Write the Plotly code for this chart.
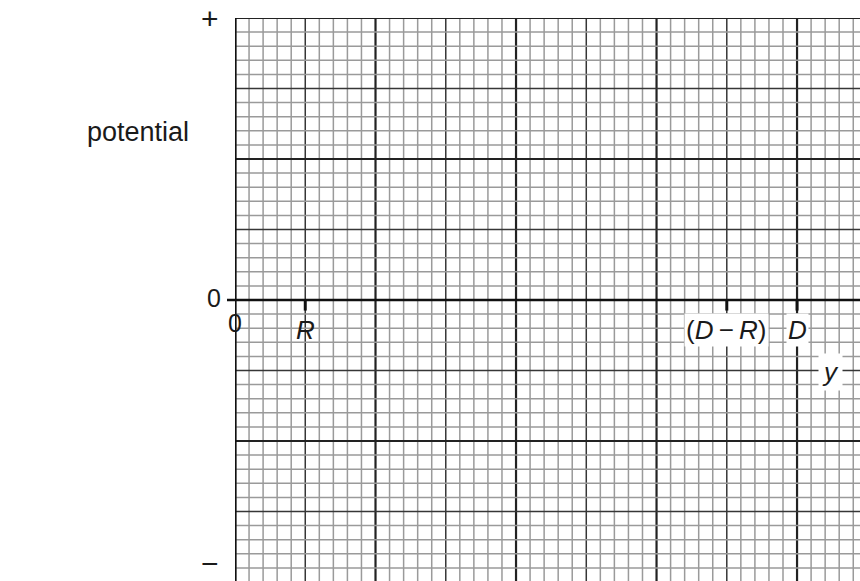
import plotly.graph_objects as go

# Axis extents in grid squares (one small square = 1 unit)
x_max = 44.48
y_min, y_max = -19.93, 20

# Labelled positions on the y (horizontal) axis
x_tick_values = [0, 5, 35, 40]
x_tick_labels = ["0", "<i>R</i>", "(<i>D</i>\u2009−\u2009<i>R</i>)", "<i>D</i>"]
x_tick_marks = [5, 35, 40]

# Labels on the potential (vertical) axis
y_tick_values = [20, 0, -20]
y_tick_labels = ["+", "0", "−"]

FONT = "Liberation Sans, Arial, Helvetica, sans-serif"
INK = "#1a1a1a"

W, H = 860, 581
L, T = 235, 18

def px_to_paper_x(px):
    return (px - L) / (W - L)

def px_to_paper_y(py):
    return 1 - (py - T) / (H - T)

def value_to_px_y(v):
    return T + (y_max - v) / (y_max - y_min) * (H - T)

fig = go.Figure()

shapes = []

def grid_style(v):
    if v % 10 == 0:
        return dict(color="#222222", width=2.2)
    if v % 5 == 0:
        return dict(color="#363636", width=1.5)
    return dict(color="#9a9a9a", width=1.5)

# Graph-paper grid: fine every unit, medium every 5, heavy every 10
for xv in range(0, 46):
    shapes.append(dict(type="line", xref="x", yref="y", x0=xv, x1=xv,
                       y0=y_min - 1, y1=y_max, line=grid_style(xv), layer="below"))
for yv in range(-21, 21):
    shapes.append(dict(type="line", xref="x", yref="y", x0=0, x1=x_max + 1,
                       y0=yv, y1=yv, line=grid_style(yv), layer="below"))

# Potential axis (left edge) and the zero line
shapes.append(dict(type="line", xref="x", yref="y", x0=0, x1=0, y0=y_min - 1, y1=y_max,
                   line=dict(color="#111111", width=3.2)))
shapes.append(dict(type="line", xref="paper", yref="y", x0=px_to_paper_x(227), x1=1.0,
                   y0=0, y1=0, line=dict(color="#111111", width=2.6)))

# Short tick marks at R, D-R, D
for xv in x_tick_marks:
    shapes.append(dict(type="line", xref="x", yref="y", x0=xv, x1=xv, y0=0, y1=-0.75,
                       line=dict(color="#111111", width=3)))

annotations = []

# Labels under the zero line
for xv, lab in zip(x_tick_values, x_tick_labels):
    yoff = -1.65 if xv == 0 else -2.15
    annotations.append(dict(x=xv, y=yoff, xref="x", yref="y", text=lab, showarrow=False,
                            font=dict(family=FONT, size=26 if xv else 25, color=INK),
                            bgcolor="white" if xv > 5 else "rgba(0,0,0,0)",
                            borderpad=1, xanchor="center", yanchor="middle"))

# Labels on the potential axis: sign markers at the ends, 0 at the zero line.
# Placed in paper coordinates so the end markers stay inside the page.
for yv, lab in zip(y_tick_values, y_tick_labels):
    py = value_to_px_y(yv)
    if lab == "0":
        annotations.append(dict(x=px_to_paper_x(214), y=px_to_paper_y(py - 2),
                                xref="paper", yref="paper", text=lab, showarrow=False,
                                font=dict(family=FONT, size=25, color=INK),
                                xanchor="center", yanchor="middle"))
    elif lab == "+":
        annotations.append(dict(x=px_to_paper_x(210), y=1 + T / (H - T),
                                xref="paper", yref="paper", text=lab, showarrow=False,
                                font=dict(family=FONT, size=30, color=INK),
                                xanchor="center", yanchor="top"))
    else:
        annotations.append(dict(x=px_to_paper_x(210), y=0,
                                xref="paper", yref="paper", text=lab, showarrow=False,
                                font=dict(family=FONT, size=30, color=INK),
                                xanchor="center", yanchor="bottom", borderpad=0))

# Axis titles
annotations.append(dict(x=px_to_paper_x(138), y=px_to_paper_y(132), xref="paper", yref="paper",
                        text="potential", showarrow=False,
                        font=dict(family=FONT, size=27, color=INK),
                        xanchor="center", yanchor="middle"))
annotations.append(dict(x=px_to_paper_x(830), y=px_to_paper_y(372), xref="paper", yref="paper",
                        text="<i>y</i>", showarrow=False,
                        font=dict(family=FONT, size=26, color=INK),
                        bgcolor="white", borderpad=3, xanchor="center", yanchor="middle"))

fig.update_layout(
    width=W, height=H,
    margin=dict(l=L, r=0, t=T, b=0),
    paper_bgcolor="white", plot_bgcolor="white",
    showlegend=False,
    xaxis=dict(range=[0, x_max], showgrid=False, zeroline=False, showticklabels=False,
               showline=False, ticks="", fixedrange=True),
    yaxis=dict(range=[y_min, y_max], showgrid=False, zeroline=False, showticklabels=False,
               showline=False, ticks="", fixedrange=True),
    shapes=shapes,
    annotations=annotations,
)

fig.write_html("out.html")
